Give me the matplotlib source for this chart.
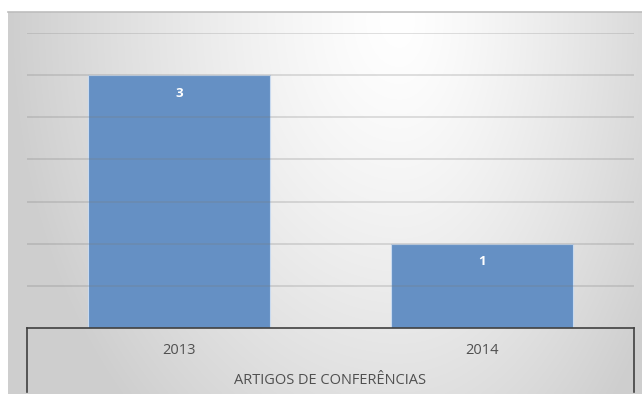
import numpy as np
import matplotlib.pyplot as plt

# chart data
years = ["2013", "2014"]
counts = [3, 1]
series_name = "ARTIGOS DE CONFERÊNCIAS"

plt.rcParams['font.family'] = ['Open Sans', 'DejaVu Sans']

W, H = 642, 394
fig = plt.figure(figsize=(W / 100, H / 100), dpi=100)
fig.patch.set_facecolor('white')

# soft radial background behind the plot
bg = fig.add_axes([8 / W, 0, (W - 8) / W, (H - 12) / H])
bg.set_axis_off()
gx, gy = np.meshgrid(np.linspace(8, W, 400), np.linspace(12, H, 250))
dx = np.where(gx < 400, (gx - 400) / 390, (gx - 400) / 300)
dy = (gy - 20) / 370
r = np.minimum(np.sqrt(dx ** 2 + 0.47 * dy ** 2), 1.0)
shade = 1.0 - 0.19 * r ** 1.3
bg.imshow(np.dstack([shade] * 3), aspect='auto', extent=[0, 1, 0, 1],
          interpolation='bilinear', vmin=0, vmax=1)
bg.set_xlim(0, 1)
bg.set_ylim(0, 1)
bg.plot([0, 1], [1, 1], color='#bdbdbd', lw=1.2, clip_on=False)

left, right, top, base = 27, 634, 33, 328
ax = fig.add_axes([left / W, (H - base) / H, (right - left) / W, (base - top) / H])
ax.set_facecolor('none')

x = np.arange(len(years))
bars = ax.bar(x, counts, width=0.6, color='#6590c4', edgecolor='#c9daef',
              linewidth=0.8, zorder=2)

ax.set_xlim(-0.5, 1.5)
ax.set_ylim(0, 3.5)
for g in np.arange(0.5, 3.51, 0.5):
    ax.axhline(g, color='#7a7a7a', lw=1.3, alpha=0.25, zorder=3)

for rect, v in zip(bars, counts):
    ax.annotate(str(v), (rect.get_x() + rect.get_width() / 2, v),
                xytext=(0, -13), textcoords='offset points', ha='center',
                va='center', color='white', fontsize=9.5, fontweight='bold',
                zorder=4)

for s in ['top', 'left', 'right']:
    ax.spines[s].set_visible(False)
ax.spines['bottom'].set_color('#404040')
ax.spines['bottom'].set_linewidth(1.2)
ax.set_yticks([])
ax.set_xticks(x)
ax.set_xticklabels(years, fontsize=10.5, color='#505050')
ax.tick_params(axis='x', length=0, pad=11)

# box around the category labels
drop = (H - 2 - base) / (base - top)
for xe in (0, 1):
    ax.plot([xe, xe], [0, -drop], transform=ax.transAxes, color='#404040',
            lw=1.2, clip_on=False)
ax.text(0.5, -(381 - base) / (base - top), series_name, transform=ax.transAxes,
        ha='center', va='center', fontsize=10.5, color='#505050')

fig.savefig('out.png', dpi=100)
